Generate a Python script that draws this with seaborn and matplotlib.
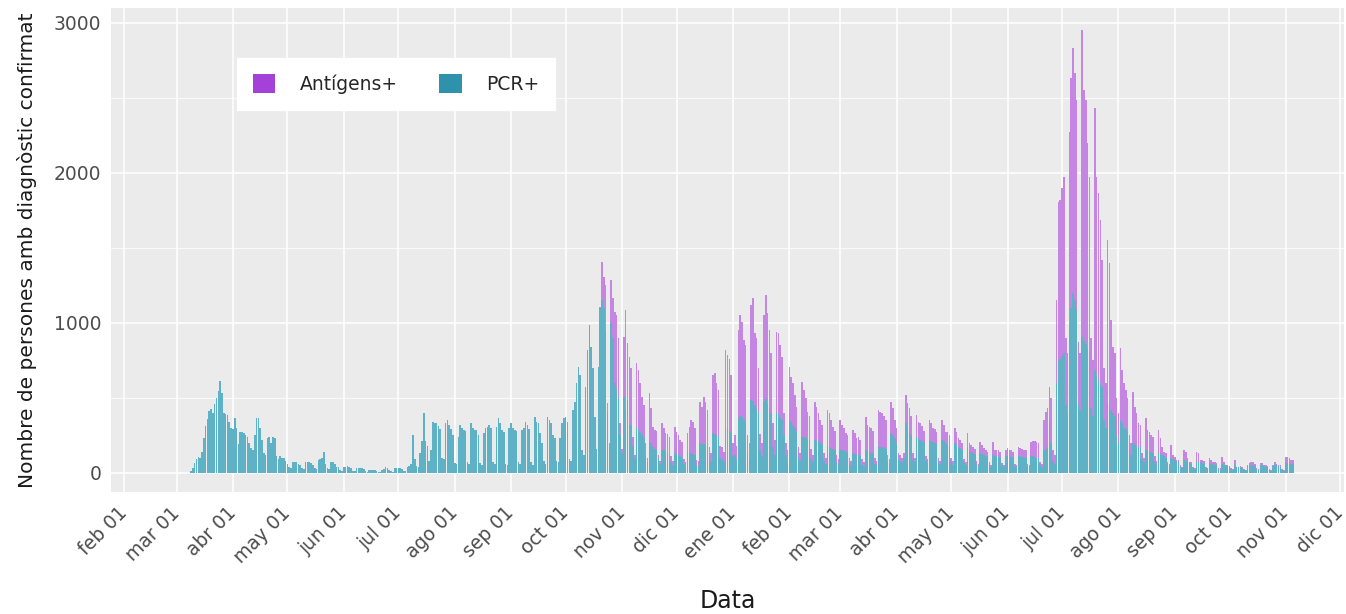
import numpy as np
import pandas as pd
import matplotlib
matplotlib.use("Agg")
import matplotlib.pyplot as plt
import matplotlib.dates as mdates
import matplotlib.transforms as mtransforms
from matplotlib.patches import Patch
import seaborn as sns

# first day with positives (a Monday) and first day with antigen positives
START = "2020-03-09"
AG_START = "2020-10-19"

# PCR+ per day, one row per week (Mon..Sun)
pcr_weeks = [
    [15, 35, 65, 90, 105, 100, 140],
    [230, 310, 360, 410, 425, 400, 460],
    [500, 545, 610, 530, 400, 390, 385],
    [340, 300, 290, 365, 300, 190, 275],
    [270, 265, 250, 240, 200, 165, 150],
    [250, 365, 365, 300, 220, 130, 120],
    [230, 240, 200, 240, 230, 110, 90],
    [110, 100, 98, 80, 60, 42, 35],
    [75, 75, 70, 60, 53, 30, 25],
    [70, 75, 70, 65, 55, 30, 25],
    [85, 90, 100, 140, 60, 35, 25],
    [75, 70, 60, 42, 40, 20, 15],
    [40, 42, 45, 40, 30, 15, 10],
    [35, 30, 31, 30, 25, 10, 8],
    [20, 22, 20, 18, 15, 8, 6],
    [20, 25, 38, 30, 20, 10, 8],
    [30, 31, 35, 30, 25, 12, 10],
    [40, 45, 60, 250, 90, 45, 40],
    [130, 210, 400, 210, 180, 80, 150],
    [340, 335, 330, 310, 290, 100, 90],
    [330, 350, 320, 290, 250, 65, 60],
    [242, 320, 300, 287, 280, 70, 60],
    [331, 300, 287, 287, 250, 65, 55],
    [264, 300, 309, 320, 300, 70, 60],
    [309, 364, 330, 287, 270, 60, 55],
    [300, 331, 300, 287, 280, 70, 60],
    [287, 300, 342, 320, 290, 70, 55],
    [375, 340, 331, 264, 200, 80, 60],
    [375, 353, 330, 253, 230, 80, 70],
    [231, 330, 364, 375, 340, 90, 80],
    [420, 475, 598, 709, 650, 150, 120],
    [575, 820, 987, 842, 700, 375, 160],
    [709, 1100, 1150, 1100, 950, 400, 180],
    [1000, 900, 600, 560, 500, 250, 130],
    [509, 420, 480, 331, 320, 180, 90],
    [298, 290, 270, 253, 230, 120, 70],
    [209, 200, 170, 160, 150, 90, 60],
    [153, 150, 140, 130, 120, 70, 50],
    [131, 125, 120, 110, 105, 60, 45],
    [131, 130, 130, 125, 120, 55, 45],
    [198, 190, 195, 185, 170, 90, 70],
    [264, 260, 250, 240, 100, 90, 75],
    [298, 290, 285, 270, 110, 120, 95],
    [364, 380, 370, 350, 330, 130, 100],
    [487, 480, 450, 430, 400, 150, 110],
    [480, 490, 460, 430, 400, 170, 120],
    [398, 390, 370, 350, 250, 120, 90],
    [353, 340, 320, 300, 270, 100, 80],
    [242, 240, 230, 220, 210, 90, 70],
    [220, 215, 210, 200, 190, 80, 60],
    [175, 170, 165, 160, 150, 70, 55],
    [153, 150, 145, 140, 130, 60, 50],
    [131, 125, 120, 120, 115, 55, 45],
    [150, 145, 140, 135, 130, 60, 50],
    [175, 175, 170, 165, 160, 70, 55],
    [264, 250, 230, 200, 90, 80, 70],
    [100, 331, 300, 280, 250, 90, 70],
    [242, 230, 220, 210, 200, 80, 65],
    [220, 215, 205, 200, 190, 75, 60],
    [220, 210, 195, 190, 180, 70, 55],
    [198, 190, 170, 165, 155, 65, 50],
    [175, 150, 140, 135, 125, 60, 45],
    [131, 125, 120, 115, 110, 55, 40],
    [120, 110, 110, 108, 105, 50, 38],
    [110, 115, 110, 108, 105, 45, 38],
    [115, 110, 108, 105, 100, 45, 38],
    [110, 110, 105, 100, 100, 50, 40],
    [150, 160, 170, 353, 200, 80, 60],
    [600, 750, 760, 780, 800, 450, 400],
    [1000, 1100, 1198, 1150, 1087, 460, 420],
    [909, 880, 860, 820, 798, 430, 380],
    [687, 650, 620, 600, 575, 350, 300],
    [464, 450, 420, 400, 380, 250, 200],
    [353, 330, 300, 290, 270, 150, 120],
    [198, 190, 180, 175, 170, 90, 70],
    [153, 150, 145, 140, 135, 70, 55],
    [131, 125, 120, 110, 100, 60, 45],
    [98, 90, 85, 75, 70, 40, 30],
    [87, 80, 75, 65, 60, 35, 28],
    [75, 72, 70, 65, 60, 30, 25],
    [64, 60, 58, 55, 50, 28, 22],
    [60, 55, 50, 45, 40, 25, 20],
    [53, 40, 40, 40, 35, 20, 18],
    [45, 50, 50, 55, 45, 22, 18],
    [50, 50, 45, 40, 38, 20, 16],
    [45, 55, 50, 45, 40, 20, 16],
    [65, 64, 60, 60, 58],
]

# total positives (PCR+ + Antígens+) per day from AG_START
total_weeks = [
    [709, 1109, 1409, 1309, 1253, 464, 200],
    [1287, 1164, 1075, 1050, 900, 331, 160],
    [909, 1087, 864, 775, 700, 242, 120],
    [731, 687, 598, 509, 450, 200, 100],
    [531, 431, 309, 287, 280, 120, 80],
    [331, 298, 264, 260, 240, 110, 80],
    [309, 275, 253, 220, 209, 90, 70],
    [264, 309, 353, 340, 300, 87, 80],
    [475, 442, 509, 470, 420, 175, 130],
    [653, 664, 600, 553, 180, 170, 140],
    [820, 787, 760, 650, 200, 250, 180],
    [953, 1053, 1009, 887, 850, 250, 200],
    [1120, 1164, 931, 900, 698, 260, 200],
    [1053, 1187, 1064, 950, 798, 331, 220],
    [942, 931, 850, 775, 398, 200, 150],
    [709, 642, 598, 520, 442, 170, 130],
    [609, 553, 500, 409, 380, 160, 120],
    [475, 442, 400, 353, 320, 130, 100],
    [420, 400, 353, 309, 280, 120, 90],
    [353, 320, 300, 264, 250, 100, 80],
    [287, 264, 231, 240, 220, 90, 70],
    [375, 320, 309, 300, 280, 100, 80],
    [420, 409, 398, 380, 350, 120, 90],
    [476, 431, 353, 300, 130, 120, 100],
    [130, 520, 464, 431, 380, 130, 100],
    [387, 342, 331, 310, 280, 110, 90],
    [353, 331, 298, 290, 270, 100, 80],
    [353, 320, 275, 270, 250, 100, 80],
    [298, 275, 231, 220, 200, 90, 70],
    [264, 198, 187, 175, 160, 80, 60],
    [209, 187, 164, 153, 142, 70, 55],
    [209, 153, 153, 150, 140, 65, 50],
    [153, 164, 153, 150, 140, 60, 50],
    [175, 164, 160, 155, 150, 60, 50],
    [209, 215, 210, 205, 200, 75, 60],
    [353, 409, 431, 575, 500, 150, 120],
    [1153, 1809, 1820, 1898, 1976, 900, 800],
    [2276, 2631, 2831, 2664, 2487, 870, 800],
    [2953, 2553, 2487, 2198, 1976, 900, 750],
    [2431, 1976, 1864, 1687, 1420, 700, 600],
    [1553, 1398, 1020, 842, 800, 500, 400],
    [831, 687, 598, 553, 500, 250, 200],
    [542, 442, 398, 331, 320, 130, 100],
    [364, 287, 275, 253, 240, 110, 80],
    [287, 231, 175, 142, 130, 70, 60],
    [187, 120, 109, 87, 85, 50, 40],
    [153, 142, 98, 75, 70, 40, 35],
    [142, 131, 87, 85, 80, 40, 35],
    [98, 87, 75, 70, 65, 35, 30],
    [109, 75, 53, 50, 45, 30, 25],
    [87, 42, 42, 45, 40, 25, 20],
    [53, 64, 70, 75, 60, 30, 25],
    [64, 64, 53, 50, 45, 25, 20],
    [53, 75, 60, 53, 50, 25, 20],
    [109, 104, 100, 87, 87],
]

month_abbr = ["ene", "feb", "mar", "abr", "may", "jun",
              "jul", "ago", "sep", "oct", "nov", "dic"]
series_names = ["Antígens+", "PCR+"]
bar_colors = ["#C585E3", "#5FB2C6"]
key_colors = ["#A441D8", "#2E92AC"]

# build long table
pcr = np.concatenate(pcr_weeks)
dates = pd.date_range(START, periods=len(pcr), freq="D")
total = np.concatenate(total_weeks)
ag_dates = pd.date_range(AG_START, periods=len(total), freq="D")
pcr_on_ag = pd.Series(pcr, index=dates).reindex(ag_dates).values
antigens = np.clip(total - pcr_on_ag, 0, None)

df = pd.concat([
    pd.DataFrame({"dia": mdates.date2num(dates), "n": pcr, "tipus": "PCR+"}),
    pd.DataFrame({"dia": mdates.date2num(ag_dates), "n": antigens, "tipus": "Antígens+"}),
])

sns.set_theme(style="darkgrid", rc={
    "axes.facecolor": "#EBEBEB",
    "grid.color": "white",
    "figure.facecolor": "white",
})
plt.rcParams["font.family"] = ["DejaVu Sans"]

fig = plt.figure(figsize=(13.46, 6.14), dpi=100)
ax = fig.add_axes([0.0825, 0.1987, 0.916, 0.7883])

sns.histplot(
    data=df, x="dia", weights="n", hue="tipus", hue_order=series_names,
    multiple="stack", discrete=True, shrink=0.88, palette=bar_colors,
    alpha=1, linewidth=0, legend=False, ax=ax,
)

ax.set_xlim(mdates.date2num(pd.Timestamp("2020-01-25")),
            mdates.date2num(pd.Timestamp("2021-12-03")))
ax.set_ylim(-127, 3100)

months = pd.date_range("2020-02-01", "2021-12-01", freq="MS")
ax.set_xticks(mdates.date2num(months))
ax.set_xticklabels([f"{month_abbr[m.month - 1]} 01" for m in months],
                   rotation=45, ha="right", va="center", rotation_mode="anchor")
shift = mtransforms.ScaledTranslation(3 / 100, 0, fig.dpi_scale_trans)
for lab in ax.get_xticklabels():
    lab.set_transform(lab.get_transform() + shift)

ax.set_yticks([0, 1000, 2000, 3000])
ax.set_yticks([500, 1500, 2500], minor=True)
ax.grid(which="major", color="white", linewidth=1.1)
ax.grid(which="minor", axis="y", color="white", linewidth=0.55)
ax.tick_params(which="major", length=4, width=0.9, color="#333333",
               labelcolor="#4D4D4D", labelsize=13.5, pad=3)
ax.tick_params(axis="x", which="major", pad=9)
ax.tick_params(which="minor", length=0)
for s in ax.spines.values():
    s.set_visible(False)

ax.set_xlabel("Data", fontsize=17, color="#1A1A1A", labelpad=16)
ax.set_ylabel("Nombre de persones amb diagnòstic confirmat", fontsize=14.5,
              color="#1A1A1A", labelpad=12)

handles = [Patch(facecolor=c, edgecolor="none") for c in key_colors]
fig.legend(handles, series_names, loc="upper left", ncol=2,
           bbox_to_anchor=(237 / 1346, 1 - 58 / 614), bbox_transform=fig.transFigure,
           borderaxespad=0, frameon=True, facecolor="white", edgecolor="white",
           fancybox=False, framealpha=1, fontsize=13.5, handlelength=1.2,
           handleheight=1.2, handletextpad=1.3, columnspacing=2.2, borderpad=0.85)

fig.savefig("out.png", dpi=100)
